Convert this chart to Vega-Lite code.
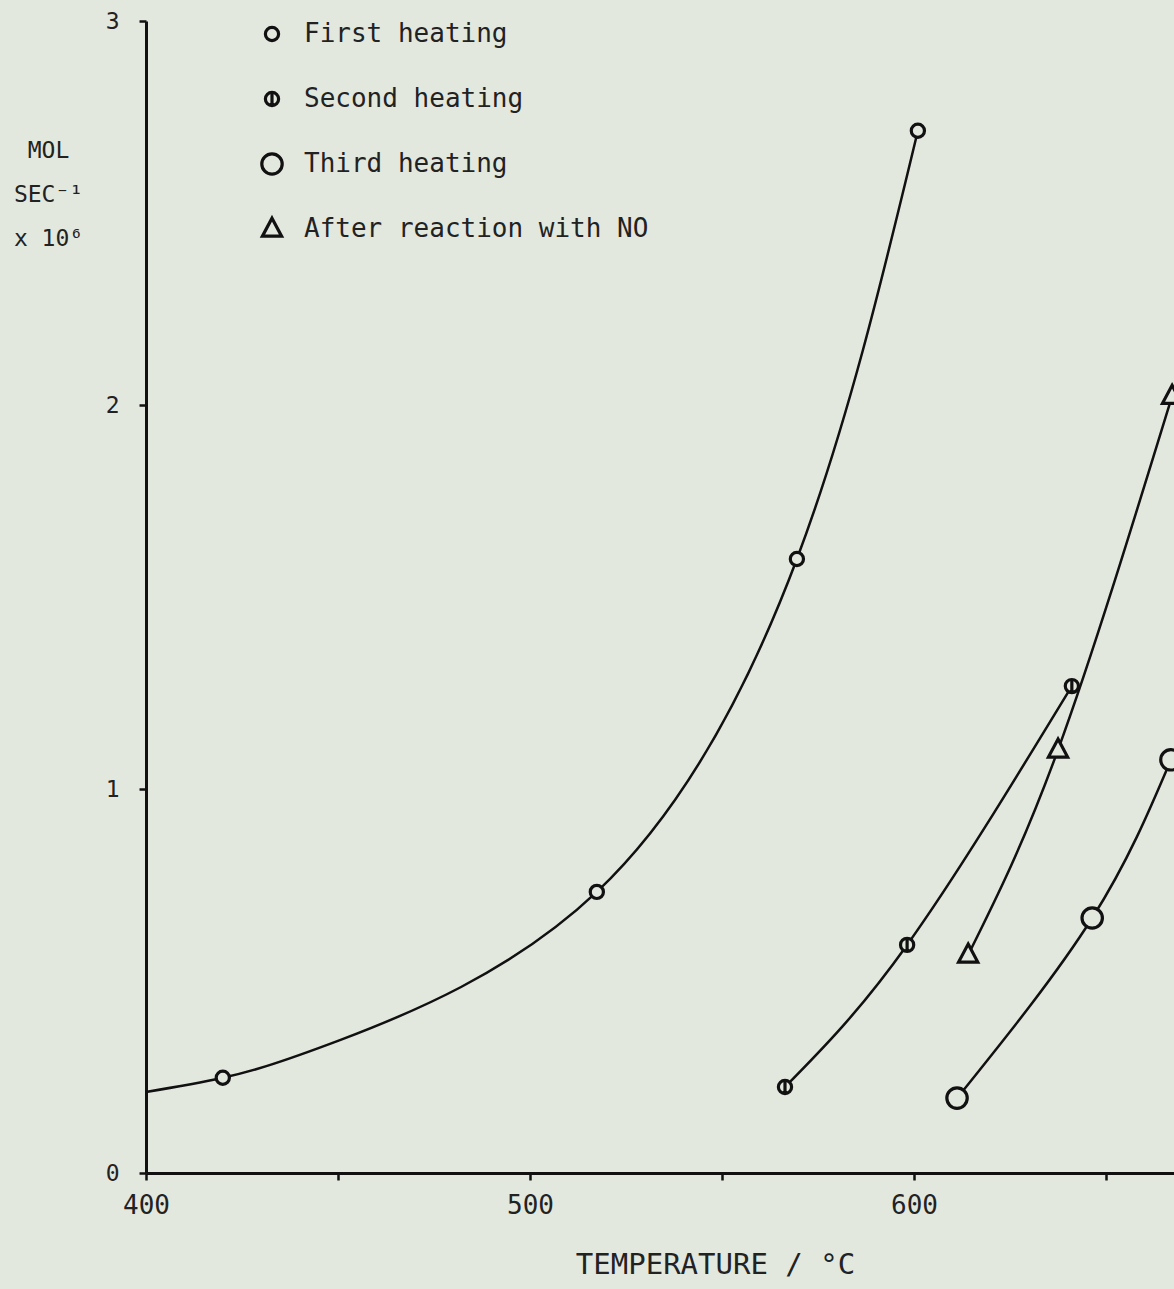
{
  "$schema": "https://vega.github.io/schema/vega-lite/v6.json",
  "autosize": {"type": "none"},
  "padding": {"left": 146, "top": 21, "right": 0, "bottom": 116},
  "width": 1028,
  "height": 1152,
  "background": "#e3e8df",
  "config": {
    "view": {"stroke": null},
    "font": "DejaVu Sans Mono"
  },
  "datasets": {
    "curves": [
      {"series": "First heating", "t": 400, "r": 0.211},
      {"series": "First heating", "t": 420, "r": 0.248},
      {"series": "First heating", "t": 450.5, "r": 0.346},
      {"series": "First heating", "t": 517.4, "r": 0.732},
      {"series": "First heating", "t": 569.5, "r": 1.599},
      {"series": "First heating", "t": 601, "r": 2.714},
      {"series": "Second heating", "t": 566.4, "r": 0.224},
      {"series": "Second heating", "t": 598.2, "r": 0.594},
      {"series": "Second heating", "t": 641.1, "r": 1.268},
      {"series": "Third heating", "t": 611.2, "r": 0.195},
      {"series": "Third heating", "t": 646.4, "r": 0.664},
      {"series": "Third heating", "t": 666.9, "r": 1.076},
      {"series": "After reaction with NO", "t": 614.1, "r": 0.568},
      {"series": "After reaction with NO", "t": 637.5, "r": 1.102},
      {"series": "After reaction with NO", "t": 667.2, "r": 2.023}
    ],
    "points": [
      {"series": "First heating", "t": 420, "r": 0.248},
      {"series": "First heating", "t": 517.4, "r": 0.732},
      {"series": "First heating", "t": 569.5, "r": 1.599},
      {"series": "First heating", "t": 601, "r": 2.714},
      {"series": "Second heating", "t": 566.4, "r": 0.224},
      {"series": "Second heating", "t": 598.2, "r": 0.594},
      {"series": "Second heating", "t": 641.1, "r": 1.268},
      {"series": "Third heating", "t": 611.2, "r": 0.195},
      {"series": "Third heating", "t": 646.4, "r": 0.664},
      {"series": "Third heating", "t": 666.9, "r": 1.076},
      {"series": "After reaction with NO", "t": 614.1, "r": 0.568},
      {"series": "After reaction with NO", "t": 637.5, "r": 1.102},
      {"series": "After reaction with NO", "t": 667.2, "r": 2.023}
    ]
  },
  "encoding": {
    "x": {
      "field": "t", "type": "quantitative",
      "scale": {"domain": [400, 667.7], "nice": false, "zero": false},
      "axis": {
        "values": [400, 450, 500, 550, 600, 650],
        "labelExpr": "datum.value % 100 == 0 ? datum.label : ''",
        "labelFlush": false,
        "grid": false,
        "domainColor": "#111", "domainWidth": 3,
        "tickColor": "#111", "tickWidth": 2.5, "tickSize": 7,
        "labelFont": "DejaVu Sans Mono", "labelFontSize": 26, "labelColor": "#222",
        "labelPadding": 12,
        "title": "TEMPERATURE / °C",
        "titleFont": "DejaVu Sans Mono", "titleFontSize": 29, "titleFontWeight": "normal", "titleColor": "#222",
        "titleX": 569, "titleY": 100, "titleAlign": "center", "titleBaseline": "alphabetic"
      }
    },
    "y": {
      "field": "r", "type": "quantitative",
      "scale": {"domain": [0, 3], "nice": false},
      "axis": {
        "values": [0, 1, 2, 3],
        "grid": false,
        "domainColor": "#111", "domainWidth": 3,
        "tickColor": "#111", "tickWidth": 2.5, "tickSize": 7,
        "labelFont": "DejaVu Sans Mono", "labelFontSize": 23, "labelColor": "#222",
        "labelPadding": 20,
        "title": ["MOL", "SEC⁻¹", "x 10⁶"],
        "titleFont": "DejaVu Sans Mono", "titleFontSize": 23, "titleFontWeight": "normal", "titleColor": "#222",
        "titleAngle": 0, "titleX": -98, "titleY": 118, "titleAlign": "center", "titleBaseline": "top",
        "titleLineHeight": 44
      }
    }
  },
  "layer": [
    {
      "data": {"name": "curves"},
      "mark": {"type": "line", "interpolate": "natural", "color": "#111", "strokeWidth": 2.5},
      "encoding": {"detail": {"field": "series"}}
    },
    {
      "data": {"name": "points"},
      "mark": {"type": "point", "filled": false, "fill": "#e3e8df", "fillOpacity": 1, "strokeWidth": 3.2, "size": 576, "opacity": 1},
      "encoding": {
        "color": {
          "field": "series", "type": "nominal",
          "scale": {
            "domain": ["First heating", "Second heating", "Third heating", "After reaction with NO"],
            "range": ["#111", "#111", "#111", "#111"]
          }
        },
        "shape": {
          "field": "series", "type": "nominal",
          "scale": {
            "domain": ["First heating", "Second heating", "Third heating", "After reaction with NO"],
            "range": [
              "M-0.55,0A0.55,0.55,0,1,0,0.55,0A0.55,0.55,0,1,0,-0.55,0Z",
              "M-0.55,0A0.55,0.55,0,1,0,0.55,0A0.55,0.55,0,1,0,-0.55,0ZM0,-0.55L0,0.55",
              "M-0.85,0A0.85,0.85,0,1,0,0.85,0A0.85,0.85,0,1,0,-0.85,0Z",
              "M0,-0.9L0.8,0.6L-0.8,0.6Z"
            ]
          },
          "legend": {
            "orient": "none", "legendX": 112, "legendY": -1,
            "title": null, "padding": 0,
            "gridAlign": "all",
            "labelFont": "DejaVu Sans Mono", "labelFontSize": 26, "labelColor": "#222",
            "labelLimit": 0,
            "labelOffset": 18, "rowPadding": 30,
            "symbolSize": 576, "symbolStrokeWidth": 3.2,
            "symbolFillColor": "#e3e8df"
          }
        }
      }
    }
  ]
}
